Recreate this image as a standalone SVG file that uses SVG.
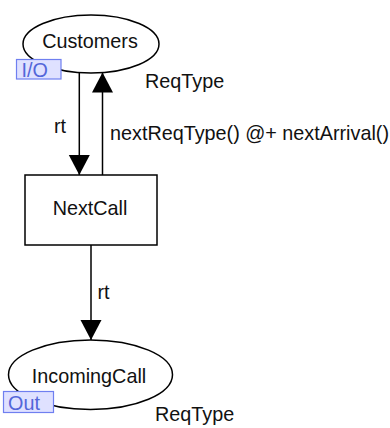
<svg xmlns="http://www.w3.org/2000/svg" width="390" height="428" viewBox="0 0 390 428">
  <style>
    .shape { fill: #ffffff; stroke: #000000; stroke-width: 1.5; }
    .label { font-family: "Liberation Sans", Arial, sans-serif; font-size: 19.8px; fill: #111111; }
    .tagbox { fill: #dfe1ff; stroke: #6f7ff0; stroke-width: 1.2; }
    .tagtext { font-family: "Liberation Sans", Arial, sans-serif; font-size: 19.8px; fill: #5366d9; }
    .arc { fill: none; stroke: #000000; stroke-width: 1.5; }
  </style>
  <defs>
    <marker id="arrow" markerUnits="userSpaceOnUse" markerWidth="22" markerHeight="22" viewBox="0 0 20 22" refX="20" refY="11" orient="auto">
      <path d="M0,0.5 L20,11 L0,21.5 Z" fill="#000000"/>
    </marker>
  </defs>

  <!-- arcs -->
  <g id="arcs">
    <line class="arc" x1="79.3" y1="72.5" x2="79.3" y2="175" marker-end="url(#arrow)"/>
    <text class="label" x="54" y="133">rt</text>
    <line class="arc" x1="102.5" y1="175" x2="102.5" y2="72.6" marker-end="url(#arrow)"/>
    <text class="label" x="110" y="140">nextReqType() @+ nextArrival()</text>
    <line class="arc" x1="91" y1="245" x2="91" y2="340" marker-end="url(#arrow)"/>
    <text class="label" x="97.5" y="299">rt</text>
  </g>

  <!-- place: Customers -->
  <g id="customers">
    <ellipse class="shape" cx="91" cy="44" rx="68" ry="29"/>
    <text class="label" x="90" y="48" text-anchor="middle">Customers</text>
    <rect class="tagbox" x="16.5" y="59.5" width="44.5" height="19.5"/>
    <text class="tagtext" x="21.5" y="76.5">I/O</text>
    <text class="label" x="145" y="88">ReqType</text>
  </g>

  <!-- transition: NextCall -->
  <g id="nextcall">
    <rect class="shape" x="25" y="175" width="132" height="70"/>
    <text class="label" x="90" y="215" text-anchor="middle">NextCall</text>
  </g>

  <!-- place: IncomingCall -->
  <g id="incomingcall">
    <ellipse class="shape" cx="90.5" cy="374.7" rx="82" ry="34.7"/>
    <text class="label" x="89" y="383" text-anchor="middle">IncomingCall</text>
    <rect class="tagbox" x="3.5" y="391.5" width="50" height="21"/>
    <text class="tagtext" x="8" y="410">Out</text>
    <text class="label" x="155" y="421">ReqType</text>
  </g>
</svg>
